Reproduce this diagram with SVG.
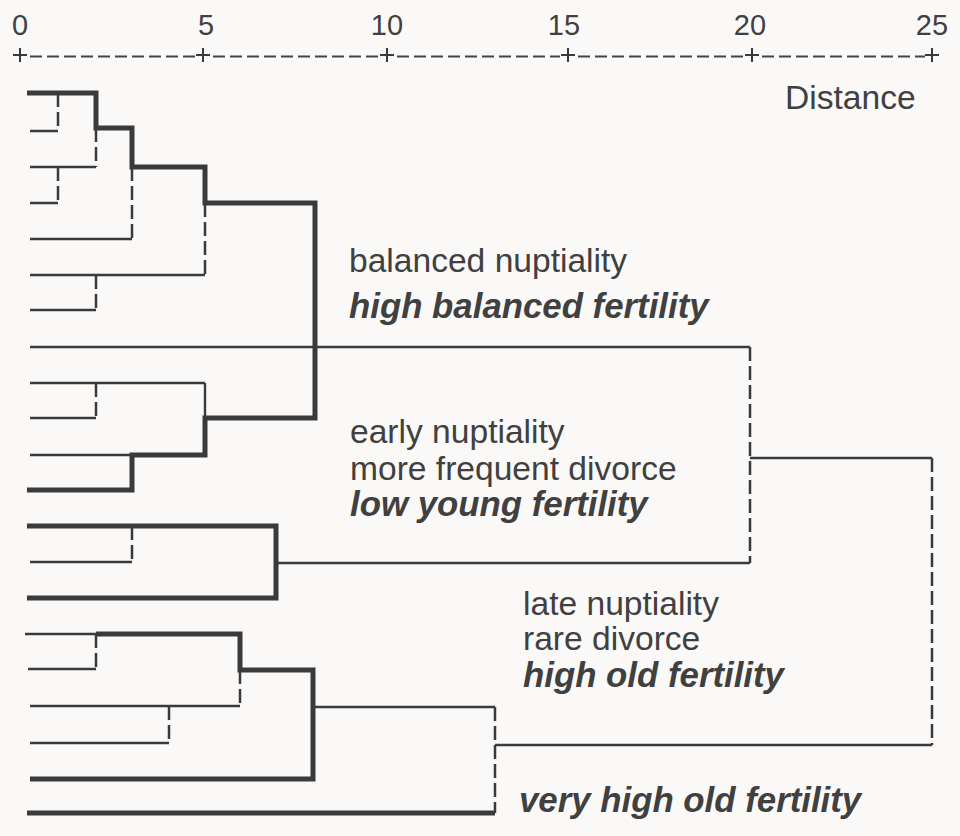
<svg xmlns="http://www.w3.org/2000/svg" width="960" height="836" viewBox="0 0 960 836">
<style>
.t{font-family:"Liberation Sans",Arial,sans-serif;fill:#404040}
.ax{font-size:29px;text-anchor:middle}
.lb{font-size:33.6px}
.bi{font-size:34.8px;font-weight:bold;font-style:italic}
.thin{stroke:#3a3a3a;stroke-width:2.4;fill:none}
.dash{stroke:#3a3a3a;stroke-width:2.5;fill:none;stroke-dasharray:14 5}
.thick{stroke:#3a3a3a;stroke-width:5;fill:none;stroke-linejoin:miter}
.axd{stroke:#454545;stroke-width:1.8;fill:none;stroke-dasharray:12 5}
.pl{stroke:#3a3a3a;stroke-width:2;fill:none}
</style>
<rect width="960" height="836" fill="#faf9f7"/>
<g id="axis">
<text class="t ax" x="20" y="35">0</text>
<text class="t ax" x="206" y="35">5</text>
<text class="t ax" x="387" y="35">10</text>
<text class="t ax" x="564" y="35">15</text>
<text class="t ax" x="750" y="35">20</text>
<text class="t ax" x="932" y="35">25</text>
<path class="pl" d="M13 55H27M20 48V62M196 55H210M203 48V62M380 55H394M387 48V62M561 55H575M568 48V62M745 55H759M752 48V62M925 55H939M932 48V62"/>
<path class="axd" d="M30 56.5H195M213 56.5H378M397 56.5H560M578 56.5H744M762 56.5H925"/>
<text class="t lb" x="785" y="109">Distance</text>
</g>
<g id="connectors">
<path class="thin" d="M30 131H58M30 167H96M30 203H58M30 239H132M30 275H205M30 310H96M30 347H750M30 383H205M30 418H96M30 455H132M30 562H132M276 563H750M750 458H932M25 634H96M28 669H96M30 706H240M30 743H169M315 707H495M495 745H932M205 383V418"/>
<path class="dash" d="M58 93V131M96 128V167M58 167V203M132 167V239M205 203V275M96 275V310M750 347V563M96 383V418M132 526V562M932 458V745M96 634V669M240 670V706M169 706V743M495 707V813"/>
<path class="thick" d="M27 93H96V128H132V167H205V203H315V418H205V455H132V490H27"/>
<path class="thick" d="M27 526H276V598H27"/>
<path class="thick" d="M96 634H240V670H313V779H30"/>
<path class="thick" d="M27 813H495"/>
</g>
<g id="cluster-balanced">
<text class="t lb" x="349" y="272">balanced nuptiality</text>
<text class="t bi" x="349" y="318">high balanced fertility</text>
</g>
<g id="cluster-early">
<text class="t lb" x="350" y="443">early nuptiality</text>
<text class="t lb" x="350" y="480">more frequent divorce</text>
<text class="t bi" x="350" y="516">low young fertility</text>
</g>
<g id="cluster-late">
<text class="t lb" x="523" y="615">late nuptiality</text>
<text class="t lb" x="523" y="650">rare divorce</text>
<text class="t bi" x="523" y="687">high old fertility</text>
</g>
<g id="cluster-veryhigh">
<text class="t bi" x="519" y="812">very high old fertility</text>
</g>
</svg>
